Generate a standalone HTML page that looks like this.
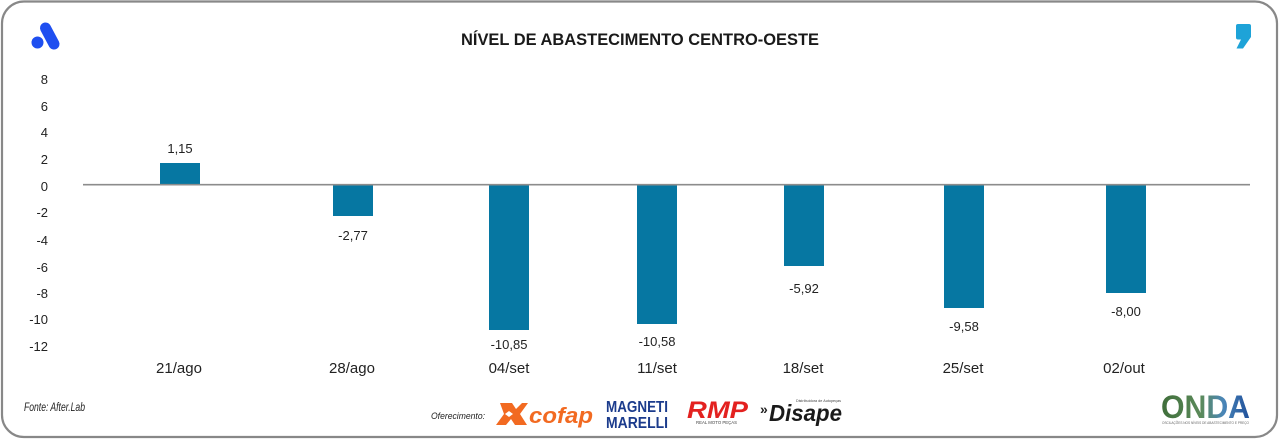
<!DOCTYPE html>
<html><head><meta charset="utf-8"><style>
html,body{margin:0;padding:0;background:#fff;width:1280px;height:440px;overflow:hidden}
svg{display:block}
text{font-family:"Liberation Sans",sans-serif}
</style></head><body>
<svg width="1280" height="440" viewBox="0 0 1280 440" xmlns="http://www.w3.org/2000/svg">
<defs>
<linearGradient id="onda" x1="0" y1="0" x2="1" y2="0">
<stop offset="0" stop-color="#3f6e3a"/><stop offset="0.45" stop-color="#5b8a5a"/><stop offset="0.7" stop-color="#4a86b8"/><stop offset="1" stop-color="#1f4f9a"/>
</linearGradient>
</defs>
<rect x="0" y="0" width="1280" height="440" fill="#fff"/>
<rect x="2" y="1.5" width="1275" height="435.5" rx="22" ry="22" fill="none" stroke="#888" stroke-width="2.2"/>

<!-- top-left logo -->
<circle cx="37.5" cy="42.5" r="6" fill="#1f4ff0"/>
<line x1="45.5" y1="28" x2="54" y2="44" stroke="#1f4ff0" stroke-width="11" stroke-linecap="round"/>

<!-- top-right comma -->
<path d="M1236 26 Q1236 24 1238 24 L1249 24 Q1251 24 1251 26 L1251 37 L1243 48.5 L1236.5 48.5 L1241 39.5 L1238 39.5 Q1236 39.5 1236 37.5 Z" fill="#1ea3d8"/>

<!-- title -->
<text x="461" y="45" font-size="17" font-weight="bold" fill="#1a1a1a" textLength="358" lengthAdjust="spacingAndGlyphs">NÍVEL DE ABASTECIMENTO CENTRO-OESTE</text>

<!-- y axis labels -->
<g font-size="13" fill="#222" text-anchor="end">
<text x="48" y="84">8</text>
<text x="48" y="111">6</text>
<text x="48" y="137">4</text>
<text x="48" y="164">2</text>
<text x="48" y="191">0</text>
<text x="48" y="217">-2</text>
<text x="48" y="245">-4</text>
<text x="48" y="272">-6</text>
<text x="48" y="298">-8</text>
<text x="48" y="324">-10</text>
<text x="48" y="351">-12</text>
</g>

<!-- bars -->
<g fill="#0677a2">
<rect x="160" y="163" width="40" height="22"/>
<rect x="333" y="185" width="40" height="31"/>
<rect x="489" y="185" width="40" height="145"/>
<rect x="637" y="185" width="40" height="139"/>
<rect x="784" y="185" width="40" height="81"/>
<rect x="944" y="185" width="40" height="123"/>
<rect x="1106" y="185" width="40" height="108"/>
</g>
<line x1="83" y1="184.7" x2="1250" y2="184.7" stroke="#8c8c8c" stroke-width="1.6"/>

<!-- data labels -->
<g font-size="13" fill="#222" text-anchor="middle">
<text x="180" y="153">1,15</text>
<text x="353" y="240">-2,77</text>
<text x="509" y="349">-10,85</text>
<text x="657" y="346">-10,58</text>
<text x="804" y="293">-5,92</text>
<text x="964" y="331">-9,58</text>
<text x="1126" y="316">-8,00</text>
</g>

<!-- category labels -->
<g font-size="15" fill="#222" text-anchor="middle">
<text x="179" y="373">21/ago</text>
<text x="352" y="373">28/ago</text>
<text x="509" y="373">04/set</text>
<text x="657" y="373">11/set</text>
<text x="803" y="373">18/set</text>
<text x="963" y="373">25/set</text>
<text x="1124" y="373">02/out</text>
</g>

<!-- footer -->
<text x="24" y="411" font-size="12" font-style="italic" fill="#222" textLength="61" lengthAdjust="spacingAndGlyphs">Fonte: After.Lab</text>
<text x="431" y="419" font-size="9" font-style="italic" fill="#222" textLength="54" lengthAdjust="spacingAndGlyphs">Oferecimento:</text>

<!-- cofap -->
<path d="M500 403 L512 403 L516 409 L522 403 L528 403 L520 414 L527 425 L515 425 L511 419 L506 425 L496 425 L504 414 Z" fill="#f26a21"/>
<path d="M509 411 L513 414 L509 417 L505 414 Z" fill="#fff"/>
<text x="529" y="423" font-size="22" font-weight="bold" font-style="italic" fill="#f26a21" textLength="64" lengthAdjust="spacingAndGlyphs">cofap</text>

<!-- Magneti Marelli -->
<text x="606" y="412" font-size="16" font-weight="bold" fill="#1b3b8c" textLength="62" lengthAdjust="spacingAndGlyphs">MAGNETI</text>
<text x="606" y="428" font-size="16" font-weight="bold" fill="#1b3b8c" textLength="62" lengthAdjust="spacingAndGlyphs">MARELLI</text>

<!-- RMP -->
<text x="687" y="418" font-size="24" font-weight="bold" font-style="italic" fill="#e3211f" textLength="61" lengthAdjust="spacingAndGlyphs">RMP</text>
<text x="696" y="424" font-size="4.5" fill="#444" textLength="41" lengthAdjust="spacingAndGlyphs">REAL MOTO PEÇAS</text>

<!-- Disape -->
<text x="760" y="414" font-size="14" font-weight="bold" fill="#222">»</text>
<text x="769" y="421" font-size="23" font-weight="bold" font-style="italic" fill="#1a1a1a" textLength="73" lengthAdjust="spacingAndGlyphs">Disape</text>
<text x="796" y="402" font-size="3.5" fill="#444" textLength="45" lengthAdjust="spacingAndGlyphs">Distribuidora de Autopeças</text>

<!-- ONDA -->
<text x="1161" y="418" font-size="32" font-weight="bold" fill="url(#onda)" textLength="89" lengthAdjust="spacingAndGlyphs">ONDA</text>
<text x="1162" y="424" font-size="3.5" fill="#666" textLength="87" lengthAdjust="spacingAndGlyphs">OSCILAÇÕES NOS NÍVEIS DE ABASTECIMENTO E PREÇO</text>
</svg>
</body></html>
